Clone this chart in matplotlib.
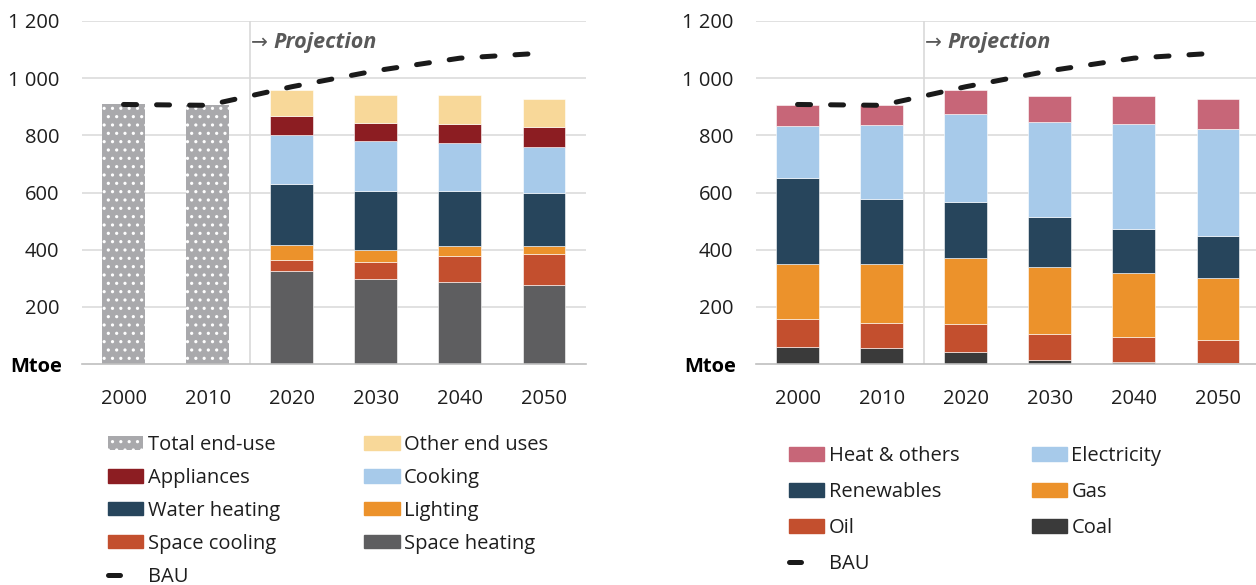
import matplotlib.pyplot as plt
from matplotlib.lines import Line2D
from matplotlib.patches import Patch
import numpy as np

plt.rcParams["font.family"] = ["Open Sans", "DejaVu Sans"]
plt.rcParams["hatch.linewidth"] = 1.1

years = ["2000", "2010", "2020", "2030", "2040", "2050"]
bau = [908, 905, 970, 1026, 1070, 1088]

# end-use split: history only as a total, projections by use
total_end_use = [908, 905]
space_heating = [324, 296, 286, 275]
space_cooling = [39, 60, 92, 111]
lighting = [53, 43, 35, 27]
water_heating = [214, 205, 191, 184]
cooking = [172, 175, 170, 163]
appliances = [64, 65, 67, 70]
other_end_uses = [93, 97, 100, 97]

# fuel split, all years
coal = [58, 55, 41, 15, 8, 4]
oil = [101, 89, 100, 91, 86, 80]
gas = [192, 207, 229, 232, 226, 218]
renewables = [298, 226, 196, 175, 154, 145]
electricity = [182, 259, 308, 332, 364, 374]
heat_others = [75, 70, 85, 92, 99, 106]

C_TOTAL = "#a9a9ac"
C_OTHER = "#f8d899"
C_APPL = "#8c1d22"
C_LIGHTBLUE = "#a7caea"
C_NAVY = "#27455c"
C_ORANGE = "#ec922b"
C_RUST = "#c34f2e"
C_GREY = "#5e5e60"
C_PINK = "#c76678"
C_COAL = "#3a3a3a"

FS = 14.5
TXT = "#1e1e1e"
W, H = 1256, 585
BAR_W = 0.51


def style_axes(ax):
    ax.set_xlim(-0.5, 5.5)
    ax.set_ylim(0, 1200)
    ax.set_yticks([200, 400, 600, 800, 1000, 1200])
    ax.set_yticklabels(["200", "400", "600", "800", "1 000", "1 200"])
    ax.set_xticks(range(len(years)))
    ax.set_xticklabels(years)
    ax.tick_params(axis="both", length=0, labelsize=FS, colors=TXT)
    ax.tick_params(axis="y", pad=16)
    ax.tick_params(axis="x", pad=18)
    ax.grid(axis="y", color="#d9d9d9", linewidth=1.1)
    ax.set_axisbelow(True)
    for side in ["top", "right", "left"]:
        ax.spines[side].set_visible(False)
    ax.spines["bottom"].set_color("#bfbfbf")
    ax.spines["bottom"].set_linewidth(1.2)
    ax.spines["bottom"].set_zorder(4)
    ax.axvline(1.5, color="#d9d9d9", linewidth=1.2, zorder=1)
    ax.annotate("Mtoe", xy=(0, 0), xycoords="axes fraction",
                xytext=(-14, -2), textcoords="offset points",
                ha="right", va="center", fontsize=FS, fontweight="bold",
                color="black")
    ax.annotate("\u2192", xy=(1.5, 1125), xycoords="data",
                xytext=(1, 0), textcoords="offset points",
                ha="left", va="center", fontsize=FS, color="#595959",
                family="DejaVu Sans")
    ax.annotate("Projection", xy=(1.5, 1125), xycoords="data",
                xytext=(17, 0), textcoords="offset points",
                ha="left", va="center", fontsize=15.5, color="#595959",
                fontweight="bold", fontstyle="italic")


def draw_bau(ax):
    x = np.arange(len(years))
    ax.plot(x, bau, color="#1a1a1a", linewidth=3.6,
            dashes=(2.6, 4.0), dash_capstyle="round", zorder=5)


bau_handle = Line2D([0], [0], color="#1a1a1a", linewidth=3.6,
                    dashes=(2.4, 20), dash_capstyle="round")

fig = plt.figure(figsize=(W / 100, H / 100), dpi=100)

# ---- left: by end use ----
ax1 = fig.add_axes([81.5 / W, 221 / H, 504.5 / W, 343 / H])
style_axes(ax1)

ax1.bar([0, 1], total_end_use, width=BAR_W, color=C_TOTAL,
        edgecolor="white", linewidth=0, hatch="..", zorder=2)

proj_x = np.arange(2, 6)
left_series = [
    ("Space heating", space_heating, C_GREY),
    ("Space cooling", space_cooling, C_RUST),
    ("Lighting", lighting, C_ORANGE),
    ("Water heating", water_heating, C_NAVY),
    ("Cooking", cooking, C_LIGHTBLUE),
    ("Appliances", appliances, C_APPL),
    ("Other end uses", other_end_uses, C_OTHER),
]
bottom = np.zeros(len(proj_x))
for name, vals, col in left_series:
    ax1.bar(proj_x, vals, bottom=bottom, width=BAR_W, color=col,
            edgecolor="white", linewidth=0.4, zorder=2)
    bottom += np.array(vals)
draw_bau(ax1)

left_handles = [
    Patch(facecolor=C_TOTAL, edgecolor="white", linewidth=0, hatch=".."),
    Patch(color=C_APPL), Patch(color=C_NAVY), Patch(color=C_RUST),
    bau_handle,
    Patch(color=C_OTHER), Patch(color=C_LIGHTBLUE), Patch(color=C_ORANGE),
    Patch(color=C_GREY),
]
left_labels = ["Total end-use", "Appliances", "Water heating",
               "Space cooling", "BAU", "Other end uses", "Cooking",
               "Lighting", "Space heating"]
fig.legend(left_handles, left_labels, ncol=2, loc="upper left",
           bbox_to_anchor=(108 / W, 1 - 435 / H), frameon=False,
           fontsize=FS, borderpad=0, borderaxespad=0,
           handlelength=1.75, handleheight=0.66, handletextpad=0.22,
           labelspacing=0.64, columnspacing=4.2, labelcolor=TXT)

# ---- right: by fuel ----
ax2 = fig.add_axes([755.5 / W, 221 / H, 504.5 / W, 343 / H])
style_axes(ax2)
x_all = np.arange(len(years))
right_series = [
    ("Coal", coal, C_COAL),
    ("Oil", oil, C_RUST),
    ("Gas", gas, C_ORANGE),
    ("Renewables", renewables, C_NAVY),
    ("Electricity", electricity, C_LIGHTBLUE),
    ("Heat & others", heat_others, C_PINK),
]
bottom = np.zeros(len(x_all))
for name, vals, col in right_series:
    ax2.bar(x_all, vals, bottom=bottom, width=BAR_W, color=col,
            edgecolor="white", linewidth=0.4, zorder=2)
    bottom += np.array(vals)
draw_bau(ax2)

right_handles = [Patch(color=C_PINK), Patch(color=C_NAVY),
                 Patch(color=C_RUST), bau_handle,
                 Patch(color=C_LIGHTBLUE), Patch(color=C_ORANGE),
                 Patch(color=C_COAL)]
right_labels = ["Heat & others", "Renewables", "Oil", "BAU",
                "Electricity", "Gas", "Coal"]
fig.legend(right_handles, right_labels, ncol=2, loc="upper left",
           bbox_to_anchor=(789 / W, 1 - 446 / H), frameon=False,
           fontsize=FS, borderpad=0, borderaxespad=0,
           handlelength=1.75, handleheight=0.66, handletextpad=0.22,
           labelspacing=0.8, columnspacing=3.6, labelcolor=TXT)

fig.savefig("out.png", dpi=100)
